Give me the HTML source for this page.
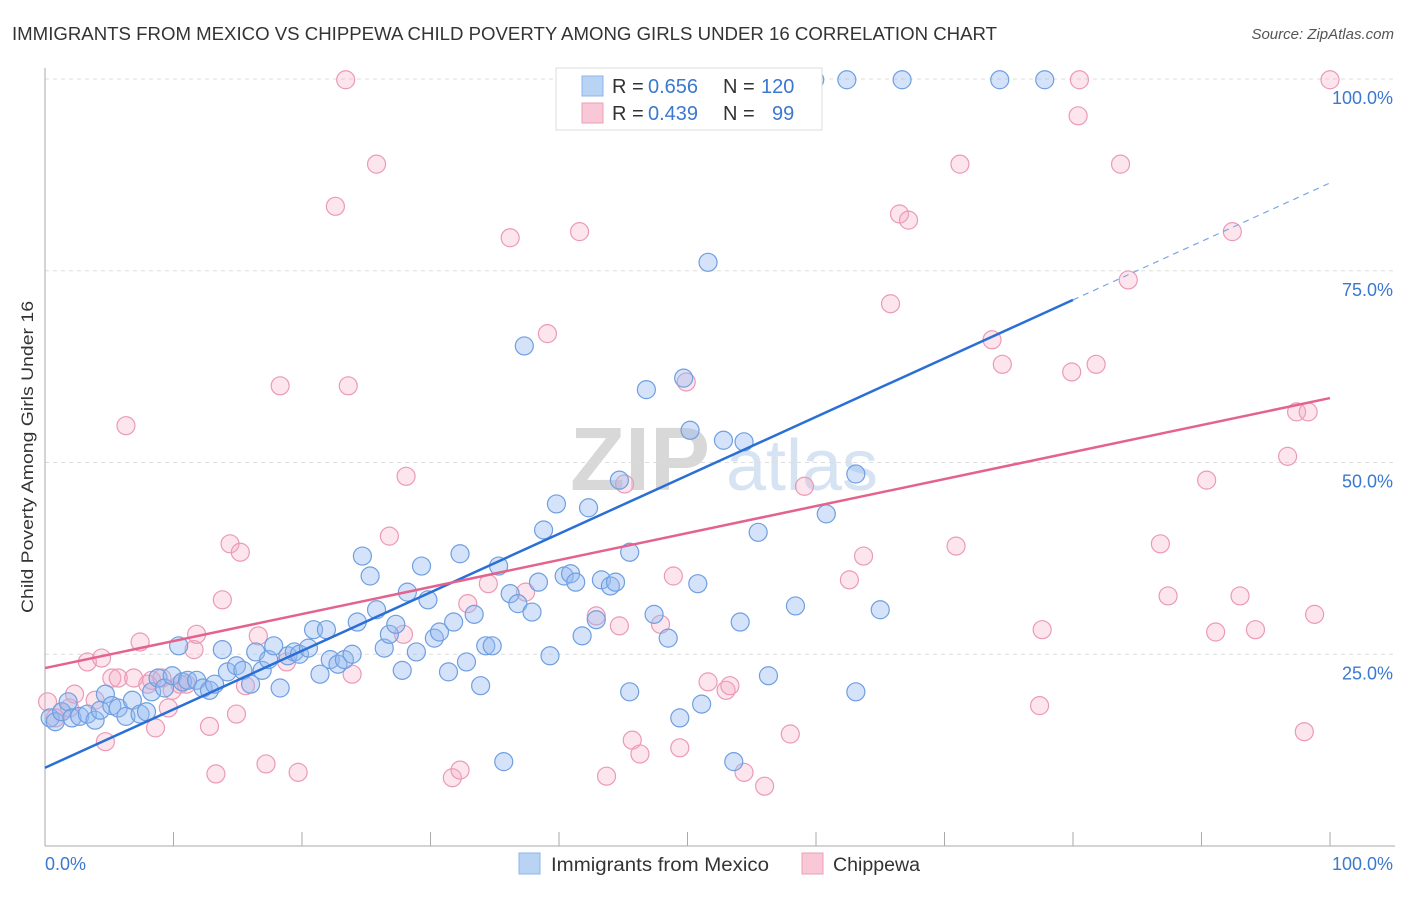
<!DOCTYPE html>
<html><head><meta charset="utf-8"><style>
body{margin:0;background:#fff;font-family:"Liberation Sans",sans-serif;}
svg text{font-family:"Liberation Sans",sans-serif;}
</style></head><body>
<svg id="c" width="1406" height="892" viewBox="0 0 1406 892" xmlns="http://www.w3.org/2000/svg">
<text x="12" y="40" font-size="18" fill="#333" textLength="985" lengthAdjust="spacingAndGlyphs">IMMIGRANTS FROM MEXICO VS CHIPPEWA CHILD POVERTY AMONG GIRLS UNDER 16 CORRELATION CHART</text>
<text x="1394" y="39" font-size="15" fill="#555" font-style="italic" text-anchor="end">Source: ZipAtlas.com</text>
<text transform="translate(33,457) rotate(-90)" font-size="17" fill="#333" text-anchor="middle" textLength="312" lengthAdjust="spacingAndGlyphs">Child Poverty Among Girls Under 16</text>
<g font-size="90" text-anchor="middle">
<text x="640" y="490" fill="#d8d8d8" font-family="Liberation Serif" font-weight="bold">ZIP</text>
<text x="802" y="490" fill="#d6e3f3" font-size="72">atlas</text></g>
<g id="grid"></g><g id="axes"></g><g id="pts"></g><g id="trend"></g>
<g font-size="20">
<rect x="556" y="68" width="266" height="62" fill="#fff" stroke="#ddd"/>
<rect x="582" y="76" width="21" height="20" fill="#b9d3f5" stroke="#8db4e8"/>
<text x="612" y="93" fill="#333">R =</text><text x="648" y="93" fill="#3b78d0">0.656</text>
<text x="723" y="93" fill="#333">N =</text><text x="761" y="93" fill="#3b78d0">120</text>
<rect x="582" y="103" width="21" height="20" fill="#f9c8d7" stroke="#ee9db8"/>
<text x="612" y="120" fill="#333">R =</text><text x="648" y="120" fill="#3b78d0">0.439</text>
<text x="723" y="120" fill="#333">N =</text><text x="772" y="120" fill="#3b78d0">99</text>
</g>
<g>
<rect x="519" y="853" width="21" height="21" fill="#b9d3f5" stroke="#8db4e8"/>
<text x="551" y="871" font-size="19" fill="#333" textLength="218" lengthAdjust="spacingAndGlyphs">Immigrants from Mexico</text>
<rect x="802" y="853" width="21" height="21" fill="#f9c8d7" stroke="#ee9db8"/>
<text x="833" y="871" font-size="19" fill="#333" textLength="87" lengthAdjust="spacingAndGlyphs">Chippewa</text>
</g>
</svg>
<script>
const yTicks=[25,50,75,100];
const yTickLabels=["25.0%","50.0%","75.0%","100.0%"];
const blueTrend=[10.2,71.2]; // y at x=0, y at x=80
const pinkTrend=[23.2,58.4]; // y at x=0, y at x=100
const bluePx=[[50,718],[55,722],[62,712],[68,702],[72,718],[80,716],[88,714],[95,720],[100,710],[106,694],[112,706],[118,708],[126,716],[132,700],[140,714],[146,712],[152,692],[158,678],[165,688],[172,676],[178,646],[182,682],[188,680],[196,680],[203,688],[210,690],[215,684],[222,650],[228,672],[236,666],[243,670],[250,684],[256,652],[262,670],[268,660],[274,646],[280,688],[288,656],[294,652],[300,654],[308,648],[313,630],[320,674],[326,630],[330,660],[338,664],[345,660],[352,654],[357,622],[363,556],[370,576],[376,610],[384,648],[390,634],[396,624],[402,670],[408,592],[416,652],[422,566],[428,600],[434,638],[440,632],[448,672],[454,622],[460,554],[466,662],[474,614],[480,686],[486,646],[492,646],[498,566],[504,762],[510,594],[518,604],[524,346],[532,612],[538,582],[544,530],[550,656],[556,504],[564,576],[570,574],[576,582],[582,636],[588,508],[596,620],[602,580],[610,586],[616,582],[620,480],[630,552],[630,692],[646,390],[654,614],[668,638],[680,718],[684,378],[690,430],[698,584],[702,704],[708,262],[724,440],[734,762],[740,622],[744,442],[758,532],[768,676],[796,606],[826,514],[856,474],[856,692],[880,610],[815,80],[847,80],[902,80],[1000,80],[1045,80],[720,80]];
const pinkPx=[[48,702],[55,718],[62,712],[70,708],[75,694],[88,662],[95,700],[102,658],[106,742],[112,678],[118,678],[126,426],[134,678],[140,642],[148,684],[152,680],[156,728],[162,678],[168,708],[172,690],[180,684],[186,684],[194,650],[196,634],[210,726],[216,774],[222,600],[230,544],[236,714],[240,552],[246,686],[258,636],[266,764],[280,386],[286,662],[298,772],[335,206],[346,80],[348,386],[352,674],[376,164],[390,536],[404,634],[406,476],[452,778],[460,770],[468,604],[488,584],[510,238],[526,592],[548,334],[580,232],[596,616],[606,776],[620,626],[624,484],[632,740],[640,754],[660,624],[674,576],[680,748],[686,382],[708,682],[726,690],[730,686],[744,772],[764,786],[790,734],[804,486],[850,580],[864,556],[890,304],[900,214],[908,220],[960,164],[956,546],[992,340],[1002,364],[1040,706],[1042,630],[1072,372],[1078,116],[1080,80],[1096,364],[1120,164],[1128,280],[1160,544],[1168,596],[1206,480],[1216,632],[1232,232],[1240,596],[1256,630],[1288,456],[1296,412],[1304,732],[1308,412],[1314,614],[1330,80]];
const blueX=bluePx.map(p=>+((p[0]-45)/12.85).toFixed(1));
const blueY=bluePx.map(p=>+((846-p[1])/7.67).toFixed(1));
const pinkX=pinkPx.map(p=>+((p[0]-45)/12.85).toFixed(1));
const pinkY=pinkPx.map(p=>+((846-p[1])/7.67).toFixed(1));
const sx=v=>45+v*12.85, sy=v=>846-v*7.67;
const NS="http://www.w3.org/2000/svg";
function mk(t,a,par){const e=document.createElementNS(NS,t);for(const k in a)e.setAttribute(k,a[k]);document.getElementById(par).appendChild(e);return e;}
yTicks.forEach((t,i)=>{
 const g=mk('line',{x1:45,x2:1395,y1:sy(t),y2:sy(t),stroke:'#ddd','stroke-dasharray':'4,4'},'grid');
 
 
 const l=mk('text',{x:1393,y:sy(t)+25,'font-size':18,fill:'#3b78d0','text-anchor':'end'},'axes');
 l.textContent=yTickLabels[i];
 
 
});
const ax=mk('line',{x1:45,x2:45,y1:68,y2:846,stroke:'#aaa'},'axes');


const bx=mk('line',{x1:45,x2:1395,y1:846,y2:846,stroke:'#aaa'},'axes');


for(let k=0;k<=10;k++){const t=mk('line',{x1:sx(k*10),x2:sx(k*10),y1:832,y2:846,stroke:'#aaa'},'axes');
 
 }
const x0=mk('text',{x:45,y:870,'font-size':18,fill:'#3b78d0'},'axes');x0.textContent='0.0%';


const x1=mk('text',{x:1393,y:870,'font-size':18,fill:'#3b78d0','text-anchor':'end'},'axes');x1.textContent='100.0%';


function dots(X,Y,fill,stroke,name){X.forEach((x,i)=>{const c=mk('circle',{cx:sx(x),cy:sy(Y[i]),r:9,fill:fill,stroke:stroke,'stroke-width':1.2},'pts');
 
 });}
dots(pinkX,pinkY,'rgba(244,170,195,0.3)','#eb9ab6','chippewa-point');
dots(blueX,blueY,'rgba(147,186,240,0.4)','#6f9fe0','mexico-point');
const bs=(blueTrend[1]-blueTrend[0])/80;
const bl=mk('line',{x1:sx(0),y1:sy(blueTrend[0]),x2:sx(80),y2:sy(blueTrend[1]),stroke:'#2a6fd6','stroke-width':2.5},'trend');


const bd=mk('line',{x1:sx(80),y1:sy(blueTrend[1]),x2:sx(100),y2:sy(blueTrend[0]+bs*100),stroke:'#7aa6e6','stroke-width':1.2,'stroke-dasharray':'6,5'},'trend');


const pl=mk('line',{x1:sx(0),y1:sy(pinkTrend[0]),x2:sx(100),y2:sy(pinkTrend[1]),stroke:'#e4628e','stroke-width':2.5},'trend');


</script>
</body></html>
